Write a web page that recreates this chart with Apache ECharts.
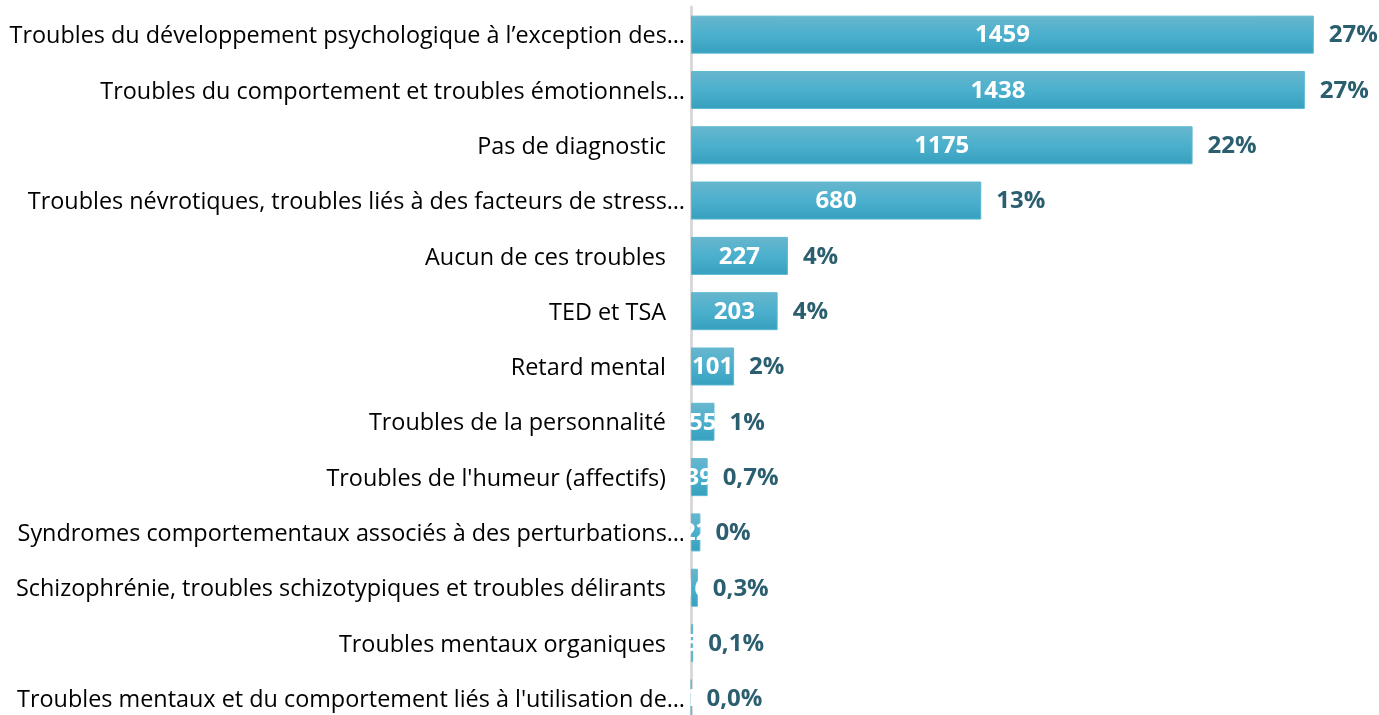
<!DOCTYPE html>
<html>
<head>
<meta charset="utf-8">
<script src="https://cdn.jsdelivr.net/npm/echarts@6/dist/echarts.min.js"></script>
<style>
  html, body { margin: 0; padding: 0; background: #fff; }
  #chart { width: 1379px; height: 715px; }
</style>
</head>
<body>
<div id="chart"></div>
<script>
// categories, top to bottom
const categories = [
  'Troubles du développement psychologique à l’exception des…',
  'Troubles du comportement et troubles émotionnels…',
  'Pas de diagnostic',
  'Troubles névrotiques, troubles liés à des facteurs de stress…',
  'Aucun de ces troubles',
  'TED et TSA',
  'Retard mental',
  'Troubles de la personnalité',
  "Troubles de l'humeur (affectifs)",
  'Syndromes comportementaux associés à des perturbations…',
  'Schizophrénie, troubles schizotypiques et troubles délirants',
  'Troubles mentaux organiques',
  "Troubles mentaux et du comportement liés à l'utilisation de…"
]
const counts = [1459, 1438, 1175, 680, 227, 203, 101, 55, 39, 22, 16, 5, 1]
const percents = ['27%', '27%', '22%', '13%', '4%', '4%', '2%', '1%', '0,7%', '0%', '0,3%', '0,1%', '0,0%']

const chart = echarts.init(document.getElementById('chart'))

const barColor = new echarts.graphic.LinearGradient(0, 0, 0, 1, [
  { offset: 0, color: '#68b6cd' },
  { offset: 0.5, color: '#4bb0cd' },
  { offset: 1, color: '#36a0be' }
])

chart.setOption({
  animation: false,
  grid: { left: 691, right: 5, top: 7, height: 719, outerBoundsMode: 'none' },
  xAxis: {
    type: 'value',
    min: 0,
    max: 1600,
    show: false
  },
  yAxis: {
    type: 'category',
    inverse: true,
    data: categories,
    axisTick: { show: false },
    axisLine: { lineStyle: { color: '#d9d9d9', width: 3 } },
    axisLabel: {
      margin: 6,
      formatter: function (v) {
        return v.endsWith('…') ? '{t|' + v + '}' : '{t|' + v + '}{s|}'
      },
      rich: {
        t: { fontFamily: 'Open Sans', fontSize: 23.4, color: '#000', padding: [4, 0, 0, 0] },
        s: { width: 19 }
      }
    }
  },
  series: [
    {
      type: 'bar',
      data: counts,
      barWidth: 38,
      itemStyle: { color: barColor, borderColor: '#5cb9d3', borderWidth: 1 },
      label: {
        show: true,
        position: 'inside',
        offset: [0, 1],
        color: '#fff',
        fontFamily: 'Open Sans',
        fontWeight: 'bold',
        fontSize: 24
      },
      z: 2
    },
    {
      type: 'bar',
      data: counts,
      barWidth: 38,
      barGap: '-100%',
      itemStyle: { color: 'transparent' },
      label: {
        show: true,
        position: 'right',
        distance: 15,
        offset: [0, 1],
        color: '#2b5f6f',
        fontFamily: 'Open Sans',
        fontWeight: 'bold',
        fontSize: 24,
        formatter: function (p) { return percents[p.dataIndex] }
      },
      z: 1
    }
  ]
})
</script>
</body>
</html>
